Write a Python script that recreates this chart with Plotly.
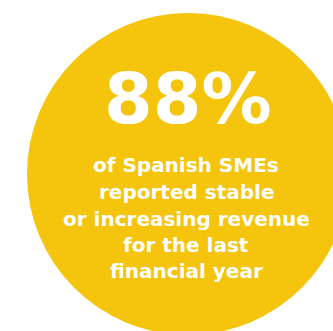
import plotly.graph_objects as go

# Data
stat_value = 88
stat_suffix = "%"
label_lines = [
    "of Spanish SMEs",
    "reported stable",
    "or increasing revenue",
    "for the last",
    "financial year",
]

W, H = 333, 331
circle_color = "#F5C40C"
cx, cy, r = 188, 174, 161

fig = go.Figure()
fig.add_trace(go.Scatter(x=[None], y=[None], showlegend=False))

fig.add_shape(type="circle", xref="x", yref="y",
              x0=cx - r, x1=cx + r, y0=cy - r, y1=cy + r,
              fillcolor=circle_color, line=dict(width=0), layer="below")

fig.add_annotation(x=cx, y=99, xref="x", yref="y",
                   text=f"<b>{stat_value}{stat_suffix}</b>", showarrow=False,
                   font=dict(family="DejaVu Sans", size=70, color="white"),
                   xanchor="center", yanchor="middle")

line_y = [165, 192, 219, 245, 271]
for txt, yy in zip(label_lines, line_y):
    fig.add_annotation(x=186, y=yy, xref="x", yref="y",
                       text=f"<b>{txt}</b>", showarrow=False,
                       font=dict(family="DejaVu Sans", size=20, color="white"),
                       xanchor="center", yanchor="middle")

fig.update_layout(width=W, height=H, margin=dict(l=0, r=0, t=0, b=0),
                  paper_bgcolor="white", plot_bgcolor="white",
                  xaxis=dict(range=[0, W], visible=False, fixedrange=True),
                  yaxis=dict(range=[H, 0], visible=False, fixedrange=True),
                  showlegend=False)

fig.write_html("out.html", config={"displayModeBar": False},
               post_script="document.body.style.margin='0';document.body.style.overflow='hidden';")
